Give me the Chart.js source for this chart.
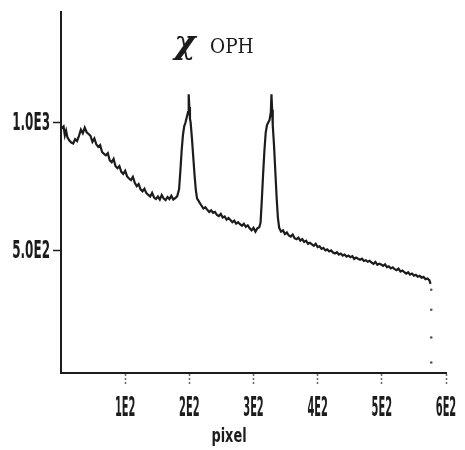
<!DOCTYPE html>
<html>
<head>
<meta charset="utf-8">
<script src="https://cdn.jsdelivr.net/npm/chart.js@4.4.0/dist/chart.umd.min.js"></script>
<style>
  html, body { margin: 0; padding: 0; background: #fff; }
  #wrap { width: 465px; height: 450px; }
</style>
</head>
<body>
<div id="wrap"><canvas id="spec" width="465" height="450"></canvas></div>
<script>
// trace: detector pixel -> counts (one line of pixelPos matches one line of counts)
const pixelPos = [
  0, 4, 6, 8, 10, 13, 16, 19, 22, 25, 28, 31, 34, 37, 40,
  43, 46, 49, 52, 55, 58, 61, 64, 67, 70, 73, 76, 79, 82, 85,
  88, 91, 94, 97, 100, 103, 106, 109, 112, 115, 118, 121, 124, 127, 130,
  133, 136, 139, 142, 145, 148, 151, 154, 157, 160, 163, 166, 169, 172, 175,
  178, 181, 184, 186, 188, 190, 192, 194, 196, 198, 199, 200, 201, 202, 204, 206, 208, 210, 212,
  216, 219, 222, 225, 228, 231, 234, 237, 240, 243, 246, 249, 252, 255, 258,
  261, 264, 267, 270, 273, 276, 279, 282, 285, 288, 291, 294, 297, 300, 303,
  306, 309, 311, 313, 315, 317, 319, 321, 323, 325, 327, 328, 329, 330, 332, 334, 336, 338, 340,
  343, 346, 349, 352, 355, 358, 361, 364, 367, 370, 373, 376, 379, 382, 385,
  388, 391, 394, 397, 400, 403, 406, 409, 412, 415, 418, 421, 424, 427, 430,
  433, 436, 439, 442, 445, 448, 451, 454, 457, 460, 463, 466, 469, 472, 475,
  478, 481, 484, 487, 490, 493, 496, 499, 502, 505, 508, 511, 514, 517, 520,
  523, 526, 529, 532, 535, 538, 541, 544, 547, 550, 553, 556, 559, 562, 565,
  568, 571, 574, 576
];
const counts = [
  975, 985, 950, 968, 942, 930, 922, 918, 935, 928, 948, 972, 958, 980, 962,
  955, 948, 925, 938, 915, 905, 912, 885, 878, 872, 880, 852, 845, 858, 830,
  822, 830, 808, 800, 812, 790, 782, 776, 788, 765, 752, 760, 740, 732, 742,
  725, 718, 712, 726, 708, 702, 712, 700, 718, 704, 698, 710, 702, 715, 700,
  706, 712, 740, 810, 890, 950, 985, 1000, 1020, 1040, 1110, 1060, 1015, 1000, 940, 870, 800, 740, 705,
  688, 676, 665, 670, 660, 652, 658, 648, 652, 640, 636, 644, 630, 634, 622,
  628, 620, 612, 618, 606, 612, 604, 598, 606, 594, 600, 588, 580, 590, 575,
  588, 592, 610, 700, 800, 890, 960, 990, 1000, 1010, 1040, 1110, 1050, 990, 910, 810, 710, 630, 590,
  575, 580, 566, 572, 560, 556, 564, 550, 546, 552, 540, 546, 535, 540, 528,
  532, 526, 520, 528, 515, 518, 508, 512, 502, 506, 498, 502, 494, 490, 495,
  486, 490, 482, 486, 478, 482, 476, 480, 469, 474, 470, 466, 470, 461, 464,
  458, 462, 455, 450, 457, 446, 450, 447, 442, 448, 437, 440, 432, 436, 429,
  425, 431, 420, 424, 418, 412, 417, 408, 412, 404, 407, 400, 403, 396, 399,
  390, 393, 386, 372
];
// dotted fall-off at the end of the detector
const dropPos = [577, 577, 577, 577];
const dropCounts = [349, 271, 163, 66];

const xTicks = [100, 200, 300, 400, 500, 600];
const xTickLabels = ["1E2", "2E2", "3E2", "4E2", "5E2", "6E2"];
const yTicks = [500, 1000];
const yTickLabels = ["5.0E2", "1.0E3"];

const ink = "#1c1c1c";

const trace = pixelPos.map((p, i) => ({ x: p, y: counts[i] }));
const drop = dropPos.map((p, i) => ({ x: p, y: dropCounts[i] }));

// squeezed text, like the plotter's narrow lettering
function narrowText(ctx, text, x, y, sx, align) {
  ctx.save();
  ctx.translate(x, y);
  ctx.scale(sx, 1);
  ctx.textAlign = align;
  ctx.fillText(text, 0, 0);
  ctx.restore();
}

const labelsPlugin = {
  id: "labels",
  afterDraw(chart) {
    const ctx = chart.ctx;
    const xs = chart.scales.x, ys = chart.scales.y;
    ctx.save();
    ctx.fillStyle = ink;
    ctx.textBaseline = "middle";

    // tick labels
    ctx.font = 'bold 26px "DejaVu Sans", sans-serif';
    xTicks.forEach((v, i) => narrowText(ctx, xTickLabels[i], xs.getPixelForValue(v), 409, 0.38, "center"));
    ctx.font = 'bold 24px "DejaVu Sans", sans-serif';
    yTicks.forEach((v, i) => narrowText(ctx, yTickLabels[i], 50, ys.getPixelForValue(v) + 1, 0.5, "right"));

    // axis name
    ctx.font = 'bold 19px "DejaVu Sans", sans-serif';
    narrowText(ctx, "pixel", 229, 437, 0.68, "center");

    // title
    ctx.font = 'bold italic 31px "DejaVu Serif", serif';
    narrowText(ctx, "χ", 185, 45, 1.05, "center");
    ctx.font = '21px "DejaVu Serif", serif';
    narrowText(ctx, "OPH", 210, 48, 0.88, "left");
    ctx.restore();
  }
};

new Chart(document.getElementById("spec"), {
  type: "line",
  data: {
    datasets: [
      {
        data: trace,
        borderColor: ink,
        borderWidth: 2.2,
        pointRadius: 0,
        tension: 0,
        fill: false
      },
      {
        data: drop,
        showLine: false,
        pointRadius: 1.3,
        pointBackgroundColor: "#555",
        pointBorderWidth: 0
      }
    ]
  },
  options: {
    responsive: false,
    animation: false,
    clip: false,
    layout: { padding: { top: 12, right: 19, left: 0, bottom: 0 } },
    plugins: {
      legend: { display: false },
      tooltip: { enabled: false }
    },
    scales: {
      x: {
        type: "linear",
        min: 0,
        max: 600,
        afterBuildTicks: s => { s.ticks = xTicks.map(v => ({ value: v })); },
        afterFit: s => { s.height = 77; },
        border: { display: true, color: ink, width: 2 },
        grid: {
          display: true,
          drawOnChartArea: false,
          drawTicks: true,
          tickLength: 12,
          tickColor: "#666",
          tickWidth: 1.5,
          tickBorderDash: [2, 2]
        },
        ticks: { display: false }
      },
      y: {
        type: "linear",
        min: 25,
        max: 1430,
        afterBuildTicks: s => { s.ticks = yTicks.map(v => ({ value: v })); },
        afterFit: s => { s.width = 61; },
        border: { display: true, color: ink, width: 2 },
        grid: {
          display: true,
          drawOnChartArea: false,
          drawTicks: true,
          tickLength: 8,
          tickColor: ink,
          tickWidth: 1.5
        },
        ticks: { display: false }
      }
    }
  },
  plugins: [labelsPlugin]
});
</script>
</body>
</html>
